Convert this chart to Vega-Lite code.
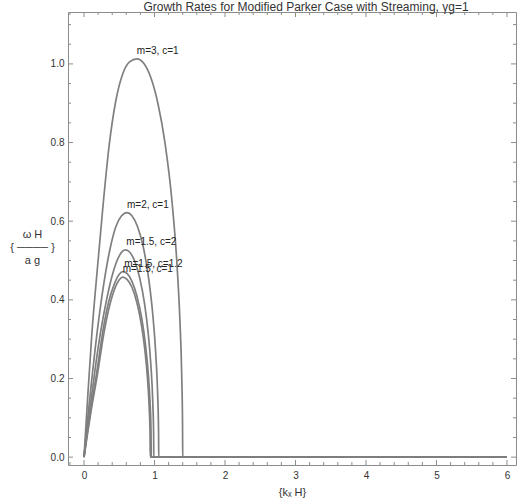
{
  "$schema": "https://vega.github.io/schema/vega-lite/v6.json",
  "autosize": {"type": "none"},
  "padding": {"left": 68, "top": 12, "right": 14, "bottom": 39},
  "width": 448,
  "height": 453,
  "background": "white",
  "title": {"text": "Growth Rates for Modified Parker Case with Streaming, γg=1", "fontSize": 12, "font": "Liberation Sans", "fontWeight": "normal", "color": "#333", "anchor": "middle", "dx": 14, "offset": 0, "dy": 2},
  "config": {
    "view": {"stroke": "#8c8c8c", "strokeWidth": 1},
    "axis": {"domain": false, "grid": false, "labelFont": "Liberation Sans", "labelFontSize": 10, "labelColor": "#333", "titleFont": "Liberation Sans", "titleFontWeight": "normal", "titleColor": "#333", "labelOverlap": false, "labelFlush": false}
  },
  "datasets": {
    "curves": [
      {"s": "m=3, c=1", "k": 0, "w": 0}, {"s": "m=3, c=1", "k": 0.05, "w": 0.145}, {"s": "m=3, c=1", "k": 0.11, "w": 0.31}, {"s": "m=3, c=1", "k": 0.2, "w": 0.5}, {"s": "m=3, c=1", "k": 0.27, "w": 0.64}, {"s": "m=3, c=1", "k": 0.355, "w": 0.79}, {"s": "m=3, c=1", "k": 0.45, "w": 0.905}, {"s": "m=3, c=1", "k": 0.55, "w": 0.975}, {"s": "m=3, c=1", "k": 0.65, "w": 1.006}, {"s": "m=3, c=1", "k": 0.75, "w": 1.013}, {"s": "m=3, c=1", "k": 0.85, "w": 1.001}, {"s": "m=3, c=1", "k": 0.95, "w": 0.964}, {"s": "m=3, c=1", "k": 1.05, "w": 0.898}, {"s": "m=3, c=1", "k": 1.15, "w": 0.798}, {"s": "m=3, c=1", "k": 1.25, "w": 0.647}, {"s": "m=3, c=1", "k": 1.32, "w": 0.487}, {"s": "m=3, c=1", "k": 1.36, "w": 0.35}, {"s": "m=3, c=1", "k": 1.385, "w": 0.216}, {"s": "m=3, c=1", "k": 1.398, "w": 0.08}, {"s": "m=3, c=1", "k": 1.4, "w": 0}, {"s": "m=3, c=1", "k": 6, "w": 0},
      {"s": "m=2, c=1", "k": 0, "w": 0}, {"s": "m=2, c=1", "k": 0.05, "w": 0.095}, {"s": "m=2, c=1", "k": 0.1, "w": 0.18}, {"s": "m=2, c=1", "k": 0.19, "w": 0.323}, {"s": "m=2, c=1", "k": 0.28, "w": 0.44}, {"s": "m=2, c=1", "k": 0.37, "w": 0.53}, {"s": "m=2, c=1", "k": 0.45, "w": 0.585}, {"s": "m=2, c=1", "k": 0.53, "w": 0.613}, {"s": "m=2, c=1", "k": 0.61, "w": 0.622}, {"s": "m=2, c=1", "k": 0.68, "w": 0.614}, {"s": "m=2, c=1", "k": 0.76, "w": 0.586}, {"s": "m=2, c=1", "k": 0.84, "w": 0.535}, {"s": "m=2, c=1", "k": 0.92, "w": 0.451}, {"s": "m=2, c=1", "k": 0.98, "w": 0.354}, {"s": "m=2, c=1", "k": 1.02, "w": 0.256}, {"s": "m=2, c=1", "k": 1.045, "w": 0.159}, {"s": "m=2, c=1", "k": 1.058, "w": 0.058}, {"s": "m=2, c=1", "k": 1.06, "w": 0}, {"s": "m=2, c=1", "k": 6, "w": 0},
      {"s": "m=1.5, c=2", "k": 0, "w": 0}, {"s": "m=1.5, c=2", "k": 0.05, "w": 0.075}, {"s": "m=1.5, c=2", "k": 0.1, "w": 0.145}, {"s": "m=1.5, c=2", "k": 0.17, "w": 0.24}, {"s": "m=1.5, c=2", "k": 0.24, "w": 0.323}, {"s": "m=1.5, c=2", "k": 0.32, "w": 0.4}, {"s": "m=1.5, c=2", "k": 0.4, "w": 0.462}, {"s": "m=1.5, c=2", "k": 0.5, "w": 0.512}, {"s": "m=1.5, c=2", "k": 0.59, "w": 0.527}, {"s": "m=1.5, c=2", "k": 0.65, "w": 0.521}, {"s": "m=1.5, c=2", "k": 0.72, "w": 0.498}, {"s": "m=1.5, c=2", "k": 0.79, "w": 0.456}, {"s": "m=1.5, c=2", "k": 0.86, "w": 0.389}, {"s": "m=1.5, c=2", "k": 0.91, "w": 0.316}, {"s": "m=1.5, c=2", "k": 0.95, "w": 0.23}, {"s": "m=1.5, c=2", "k": 0.975, "w": 0.143}, {"s": "m=1.5, c=2", "k": 0.988, "w": 0.053}, {"s": "m=1.5, c=2", "k": 0.99, "w": 0}, {"s": "m=1.5, c=2", "k": 6, "w": 0},
      {"s": "m=1.5, c=1.2", "k": 0, "w": 0}, {"s": "m=1.5, c=1.2", "k": 0.05, "w": 0.065}, {"s": "m=1.5, c=1.2", "k": 0.1, "w": 0.125}, {"s": "m=1.5, c=1.2", "k": 0.18, "w": 0.215}, {"s": "m=1.5, c=1.2", "k": 0.27, "w": 0.323}, {"s": "m=1.5, c=1.2", "k": 0.35, "w": 0.395}, {"s": "m=1.5, c=1.2", "k": 0.43, "w": 0.44}, {"s": "m=1.5, c=1.2", "k": 0.5, "w": 0.465}, {"s": "m=1.5, c=1.2", "k": 0.55, "w": 0.472}, {"s": "m=1.5, c=1.2", "k": 0.61, "w": 0.467}, {"s": "m=1.5, c=1.2", "k": 0.68, "w": 0.447}, {"s": "m=1.5, c=1.2", "k": 0.75, "w": 0.41}, {"s": "m=1.5, c=1.2", "k": 0.82, "w": 0.352}, {"s": "m=1.5, c=1.2", "k": 0.87, "w": 0.289}, {"s": "m=1.5, c=1.2", "k": 0.91, "w": 0.216}, {"s": "m=1.5, c=1.2", "k": 0.935, "w": 0.146}, {"s": "m=1.5, c=1.2", "k": 0.95, "w": 0.073}, {"s": "m=1.5, c=1.2", "k": 0.955, "w": 0}, {"s": "m=1.5, c=1.2", "k": 6, "w": 0},
      {"s": "m=1.5, c=1", "k": 0, "w": 0}, {"s": "m=1.5, c=1", "k": 0.05, "w": 0.06}, {"s": "m=1.5, c=1", "k": 0.1, "w": 0.117}, {"s": "m=1.5, c=1", "k": 0.19, "w": 0.21}, {"s": "m=1.5, c=1", "k": 0.29, "w": 0.323}, {"s": "m=1.5, c=1", "k": 0.37, "w": 0.39}, {"s": "m=1.5, c=1", "k": 0.44, "w": 0.43}, {"s": "m=1.5, c=1", "k": 0.5, "w": 0.451}, {"s": "m=1.5, c=1", "k": 0.55, "w": 0.458}, {"s": "m=1.5, c=1", "k": 0.61, "w": 0.452}, {"s": "m=1.5, c=1", "k": 0.68, "w": 0.432}, {"s": "m=1.5, c=1", "k": 0.75, "w": 0.393}, {"s": "m=1.5, c=1", "k": 0.81, "w": 0.341}, {"s": "m=1.5, c=1", "k": 0.86, "w": 0.278}, {"s": "m=1.5, c=1", "k": 0.9, "w": 0.202}, {"s": "m=1.5, c=1", "k": 0.925, "w": 0.125}, {"s": "m=1.5, c=1", "k": 0.937, "w": 0.058}, {"s": "m=1.5, c=1", "k": 0.94, "w": 0}, {"s": "m=1.5, c=1", "k": 6, "w": 0}
    ],
    "labels": [
      {"s": "m=3, c=1", "k": 0.75, "w": 1.013},
      {"s": "m=2, c=1", "k": 0.61, "w": 0.622},
      {"s": "m=1.5, c=2", "k": 0.6, "w": 0.527},
      {"s": "m=1.5, c=1.2", "k": 0.57, "w": 0.472},
      {"s": "m=1.5, c=1", "k": 0.55, "w": 0.458}
    ],
    "xt": [
      {"v": -0.2, "major": false}, {"v": 0, "major": true}, {"v": 0.2, "major": false}, {"v": 0.4, "major": false}, {"v": 0.6, "major": false}, {"v": 0.8, "major": false},
      {"v": 1, "major": true}, {"v": 1.2, "major": false}, {"v": 1.4, "major": false}, {"v": 1.6, "major": false}, {"v": 1.8, "major": false},
      {"v": 2, "major": true}, {"v": 2.2, "major": false}, {"v": 2.4, "major": false}, {"v": 2.6, "major": false}, {"v": 2.8, "major": false},
      {"v": 3, "major": true}, {"v": 3.2, "major": false}, {"v": 3.4, "major": false}, {"v": 3.6, "major": false}, {"v": 3.8, "major": false},
      {"v": 4, "major": true}, {"v": 4.2, "major": false}, {"v": 4.4, "major": false}, {"v": 4.6, "major": false}, {"v": 4.8, "major": false},
      {"v": 5, "major": true}, {"v": 5.2, "major": false}, {"v": 5.4, "major": false}, {"v": 5.6, "major": false}, {"v": 5.8, "major": false},
      {"v": 6, "major": true}
    ],
    "yt": [
      {"v": 0, "major": true}, {"v": 0.05, "major": false}, {"v": 0.1, "major": false}, {"v": 0.15, "major": false},
      {"v": 0.2, "major": true}, {"v": 0.25, "major": false}, {"v": 0.3, "major": false}, {"v": 0.35, "major": false},
      {"v": 0.4, "major": true}, {"v": 0.45, "major": false}, {"v": 0.5, "major": false}, {"v": 0.55, "major": false},
      {"v": 0.6, "major": true}, {"v": 0.65, "major": false}, {"v": 0.7, "major": false}, {"v": 0.75, "major": false},
      {"v": 0.8, "major": true}, {"v": 0.85, "major": false}, {"v": 0.9, "major": false}, {"v": 0.95, "major": false},
      {"v": 1.0, "major": true}, {"v": 1.05, "major": false}, {"v": 1.1, "major": false}
    ]
  },
  "layer": [
    {
      "data": {"name": "curves"},
      "mark": {"type": "line", "stroke": "#7f7f7f", "strokeWidth": 1.7, "clip": true, "interpolate": "monotone"},
      "encoding": {
        "x": {"field": "k", "type": "quantitative", "scale": {"domain": [-0.227, 6.128], "nice": false, "zero": false},
          "axis": {"orient": "bottom", "values": [0, 1, 2, 3, 4, 5, 6], "format": "d", "tickSize": 0, "tickOpacity": 0,
            "labelPadding": 5, "title": "{kₓ H}", "titleFontSize": 11, "titlePadding": 6}},
        "y": {"field": "w", "type": "quantitative", "scale": {"domain": [-0.02, 1.132], "nice": false, "zero": false},
          "axis": {"orient": "left", "values": [0, 0.2, 0.4, 0.6, 0.8, 1.0], "format": ".1f", "tickSize": 0, "tickOpacity": 0,
            "labelPadding": 4, "title": ["ω H", "{ ──── }", "a g"], "titleAngle": 0, "titleAlign": "center", "titleBaseline": "middle", "titleX": -36, "titleY": 222, "titleFontSize": 11, "titleLineHeight": 13}},
        "detail": {"field": "s", "type": "nominal"}
      }
    },
    {
      "data": {"name": "labels"},
      "mark": {"type": "text", "align": "left", "baseline": "bottom", "dy": -3, "fontSize": 10, "font": "Liberation Sans", "color": "#222"},
      "encoding": {
        "x": {"field": "k", "type": "quantitative"},
        "y": {"field": "w", "type": "quantitative"},
        "text": {"field": "s", "type": "nominal"}
      }
    },
    {
      "data": {"name": "xt"},
      "mark": {"type": "tick", "orient": "vertical", "clip": true, "color": "#8c8c8c", "thickness": 1, "opacity": 1},
      "encoding": {
        "x": {"field": "v", "type": "quantitative"},
        "y": {"datum": -0.02},
        "size": {"condition": {"test": "datum.major", "value": 10}, "value": 6}
      }
    },
    {
      "data": {"name": "xt"},
      "mark": {"type": "tick", "orient": "vertical", "clip": true, "color": "#8c8c8c", "thickness": 1, "opacity": 1},
      "encoding": {
        "x": {"field": "v", "type": "quantitative"},
        "y": {"datum": 1.132},
        "size": {"condition": {"test": "datum.major", "value": 10}, "value": 6}
      }
    },
    {
      "data": {"name": "yt"},
      "mark": {"type": "tick", "orient": "horizontal", "clip": true, "color": "#8c8c8c", "thickness": 1, "opacity": 1},
      "encoding": {
        "y": {"field": "v", "type": "quantitative"},
        "x": {"datum": -0.227},
        "size": {"condition": {"test": "datum.major", "value": 10}, "value": 6}
      }
    },
    {
      "data": {"name": "yt"},
      "mark": {"type": "tick", "orient": "horizontal", "clip": true, "color": "#8c8c8c", "thickness": 1, "opacity": 1},
      "encoding": {
        "y": {"field": "v", "type": "quantitative"},
        "x": {"datum": 6.128},
        "size": {"condition": {"test": "datum.major", "value": 10}, "value": 6}
      }
    }
  ]
}
